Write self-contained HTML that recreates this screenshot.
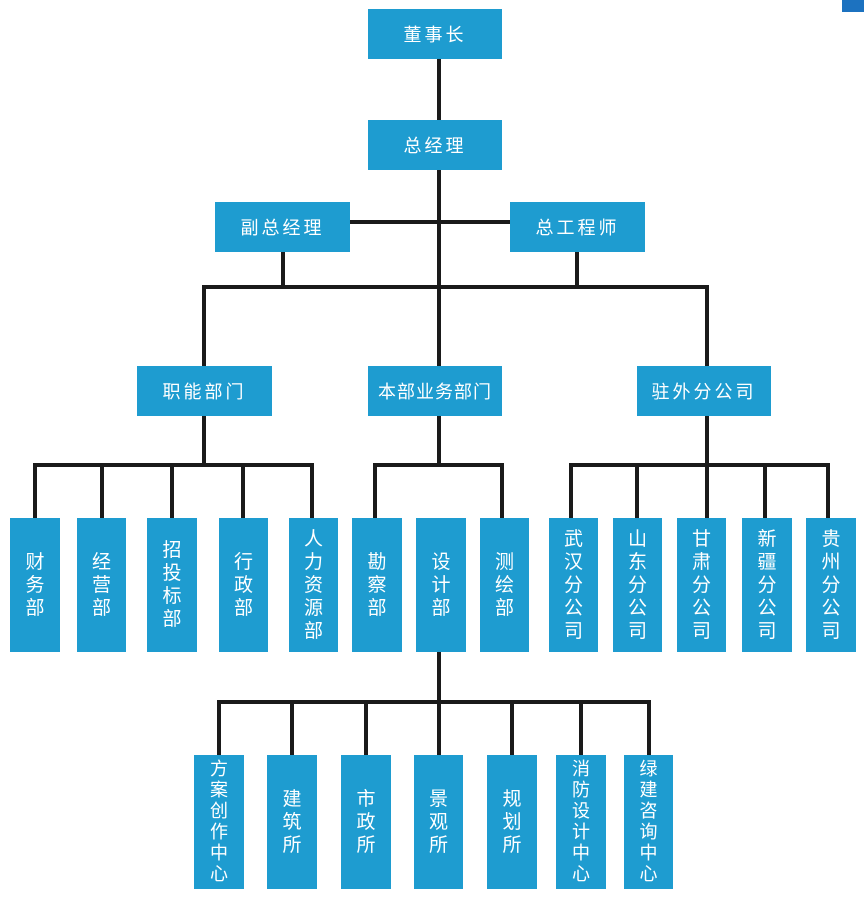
<!DOCTYPE html>
<html><head><meta charset="utf-8"><style>
html,body{margin:0;padding:0;width:864px;height:905px;overflow:hidden;background:#fff;}
body{position:relative;font-family:"Liberation Sans","Noto Sans CJK SC",sans-serif;}
.b{position:absolute;background:#1e9cd0;color:#fff;display:flex;align-items:center;justify-content:center;font-size:18px;letter-spacing:3px;}
.v{flex-direction:column;letter-spacing:0;font-size:19px;line-height:23px;}
.s{font-size:18px;line-height:21px;}
.l{position:absolute;background:#1a1a1a;}
</style></head><body>
<div style="position:absolute;left:842px;top:0;width:22px;height:12px;background:#1c72c0"></div>
<div class="l" style="left:437px;top:58px;width:4px;height:408px"></div>
<div class="l" style="left:350px;top:220px;width:160px;height:4px"></div>
<div class="l" style="left:281px;top:252px;width:4px;height:36px"></div>
<div class="l" style="left:575px;top:252px;width:4px;height:36px"></div>
<div class="l" style="left:202px;top:285px;width:507px;height:4px"></div>
<div class="l" style="left:202px;top:285px;width:4px;height:82px"></div>
<div class="l" style="left:705px;top:285px;width:4px;height:82px"></div>
<div class="l" style="left:202px;top:416px;width:4px;height:50px"></div>
<div class="l" style="left:705px;top:416px;width:4px;height:50px"></div>
<div class="l" style="left:33px;top:463px;width:281px;height:4px"></div>
<div class="l" style="left:373px;top:463px;width:131px;height:4px"></div>
<div class="l" style="left:569px;top:463px;width:261px;height:4px"></div>
<div class="l" style="left:33px;top:463px;width:4px;height:56px"></div>
<div class="l" style="left:100px;top:463px;width:4px;height:56px"></div>
<div class="l" style="left:170px;top:463px;width:4px;height:56px"></div>
<div class="l" style="left:241px;top:463px;width:4px;height:56px"></div>
<div class="l" style="left:310px;top:463px;width:4px;height:56px"></div>
<div class="l" style="left:373px;top:463px;width:4px;height:56px"></div>
<div class="l" style="left:500px;top:463px;width:4px;height:56px"></div>
<div class="l" style="left:569px;top:463px;width:4px;height:56px"></div>
<div class="l" style="left:635px;top:463px;width:4px;height:56px"></div>
<div class="l" style="left:705px;top:463px;width:4px;height:56px"></div>
<div class="l" style="left:763px;top:463px;width:4px;height:56px"></div>
<div class="l" style="left:826px;top:463px;width:4px;height:56px"></div>
<div class="l" style="left:437px;top:652px;width:4px;height:52px"></div>
<div class="l" style="left:217px;top:700px;width:434px;height:4px"></div>
<div class="l" style="left:217px;top:700px;width:4px;height:56px"></div>
<div class="l" style="left:290px;top:700px;width:4px;height:56px"></div>
<div class="l" style="left:364px;top:700px;width:4px;height:56px"></div>
<div class="l" style="left:437px;top:700px;width:4px;height:56px"></div>
<div class="l" style="left:510px;top:700px;width:4px;height:56px"></div>
<div class="l" style="left:579px;top:700px;width:4px;height:56px"></div>
<div class="l" style="left:647px;top:700px;width:4px;height:56px"></div>
<div class="b" style="left:368px;top:9px;width:134px;height:50px">董事长</div>
<div class="b" style="left:368px;top:120px;width:134px;height:50px">总经理</div>
<div class="b" style="left:215px;top:202px;width:135px;height:50px">副总经理</div>
<div class="b" style="left:510px;top:202px;width:135px;height:50px">总工程师</div>
<div class="b" style="left:137px;top:366px;width:135px;height:50px">职能部门</div>
<div class="b" style="left:368px;top:366px;width:134px;height:50px;letter-spacing:1px">本部业务部门</div>
<div class="b" style="left:637px;top:366px;width:134px;height:50px">驻外分公司</div>
<div class="b v" style="left:10px;top:518px;width:50px;height:134px"><span>财</span><span>务</span><span>部</span></div>
<div class="b v" style="left:77px;top:518px;width:49px;height:134px"><span>经</span><span>营</span><span>部</span></div>
<div class="b v" style="left:147px;top:518px;width:50px;height:134px"><span>招</span><span>投</span><span>标</span><span>部</span></div>
<div class="b v" style="left:219px;top:518px;width:49px;height:134px"><span>行</span><span>政</span><span>部</span></div>
<div class="b v" style="left:289px;top:518px;width:49px;height:134px"><span>人</span><span>力</span><span>资</span><span>源</span><span>部</span></div>
<div class="b v" style="left:352px;top:518px;width:50px;height:134px"><span>勘</span><span>察</span><span>部</span></div>
<div class="b v" style="left:416px;top:518px;width:50px;height:134px"><span>设</span><span>计</span><span>部</span></div>
<div class="b v" style="left:480px;top:518px;width:49px;height:134px"><span>测</span><span>绘</span><span>部</span></div>
<div class="b v" style="left:549px;top:518px;width:49px;height:134px"><span>武</span><span>汉</span><span>分</span><span>公</span><span>司</span></div>
<div class="b v" style="left:613px;top:518px;width:49px;height:134px"><span>山</span><span>东</span><span>分</span><span>公</span><span>司</span></div>
<div class="b v" style="left:677px;top:518px;width:49px;height:134px"><span>甘</span><span>肃</span><span>分</span><span>公</span><span>司</span></div>
<div class="b v" style="left:742px;top:518px;width:50px;height:134px"><span>新</span><span>疆</span><span>分</span><span>公</span><span>司</span></div>
<div class="b v" style="left:806px;top:518px;width:50px;height:134px"><span>贵</span><span>州</span><span>分</span><span>公</span><span>司</span></div>
<div class="b v s" style="left:194px;top:755px;width:50px;height:134px"><span>方</span><span>案</span><span>创</span><span>作</span><span>中</span><span>心</span></div>
<div class="b v" style="left:267px;top:755px;width:50px;height:134px"><span>建</span><span>筑</span><span>所</span></div>
<div class="b v" style="left:341px;top:755px;width:50px;height:134px"><span>市</span><span>政</span><span>所</span></div>
<div class="b v" style="left:414px;top:755px;width:49px;height:134px"><span>景</span><span>观</span><span>所</span></div>
<div class="b v" style="left:487px;top:755px;width:50px;height:134px"><span>规</span><span>划</span><span>所</span></div>
<div class="b v s" style="left:556px;top:755px;width:50px;height:134px"><span>消</span><span>防</span><span>设</span><span>计</span><span>中</span><span>心</span></div>
<div class="b v s" style="left:624px;top:755px;width:49px;height:134px"><span>绿</span><span>建</span><span>咨</span><span>询</span><span>中</span><span>心</span></div>
</body></html>
